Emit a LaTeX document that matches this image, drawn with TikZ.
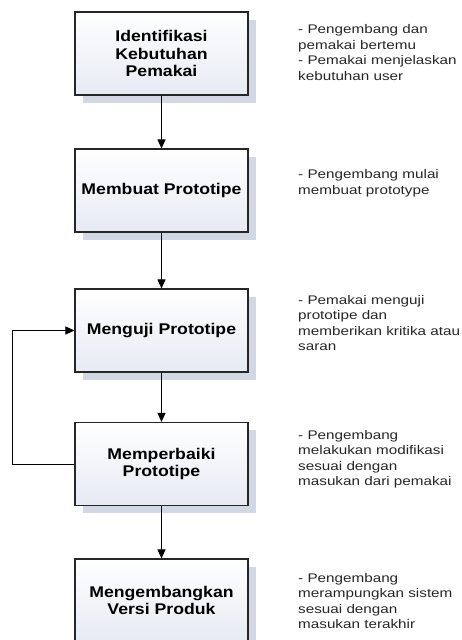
\documentclass[tikz,border=0pt]{standalone}
\usepackage{fontspec}
\setmainfont{Liberation Sans}
\newfontfamily\procfont[FakeStretch=1.14]{Liberation Sans}
\newfontfamily\notefont[FakeStretch=1.22]{Liberation Sans}
\usetikzlibrary{arrows.meta,shadows}
\definecolor{shadowc}{RGB}{210,215,228}
\definecolor{procbot}{RGB}{230,234,243}
\begin{document}
\begin{tikzpicture}[x=1pt,y=1pt,proc/.style={shape=rectangle,draw=black!85,line width=1.1pt,minimum width=173pt,minimum height=83pt,top color=white,bottom color=procbot,drop shadow={shadow xshift=8pt,shadow yshift=-8pt,fill=shadowc,opacity=1},align=center,font=\procfont\bfseries\fontsize{15.5}{17.5}\selectfont},note/.style={anchor=north west,inner sep=0pt,align=left,font=\notefont\fontsize{12.5}{15.5}\selectfont,text=black!85},flow/.style={-{Triangle[length=9pt,width=8pt]},line width=0.9pt}]
\def\xc{161.5};
\def\xn{298};
\def\xl{62};

\useasboundingbox (0,0) rectangle (461,640);
\clip (0,0) rectangle (461,640);

\node[proc] (ident) at (\xc,586.5) {Identifikasi\\Kebutuhan\\Pemakai};
\node[proc] (buat) at (\xc,449.5) {Membuat Prototipe};
\draw[flow] (ident.south) -- (buat.north);
\node[proc] (uji) at (\xc,309.5) {Menguji Prototipe};
\draw[flow] (buat.south) -- (uji.north);
\node[proc] (baiki) at (\xc,176) {Memperbaiki\\Prototipe};
\draw[flow] (uji.south) -- (baiki.north);
\node[proc] (versi) at (\xc,39.5) {Mengembangkan\\Versi Produk};
\draw[flow] (baiki.south) -- (versi.north);

% umpan balik
\draw[flow] (baiki.west) -- ++(-\xl,0) |- (uji.west);

\node[note] (nident) at (\xn,615.5) {- Pengembang dan\\pemakai bertemu\\- Pemakai menjelaskan\\kebutuhan user};
\node[note] (nbuat) at (\xn,470.5) {- Pengembang mulai\\membuat prototype};
\node[note] (nuji) at (\xn,345) {- Pemakai menguji\\prototipe dan\\memberikan kritika atau\\saran};
\node[note] (nbaiki) at (\xn,210) {- Pengembang\\melakukan modifikasi\\sesuai dengan\\masukan dari pemakai};
\node[note] (nversi) at (\xn,67) {- Pengembang\\merampungkan sistem\\sesuai dengan\\masukan terakhir};
\end{tikzpicture}
\end{document}
